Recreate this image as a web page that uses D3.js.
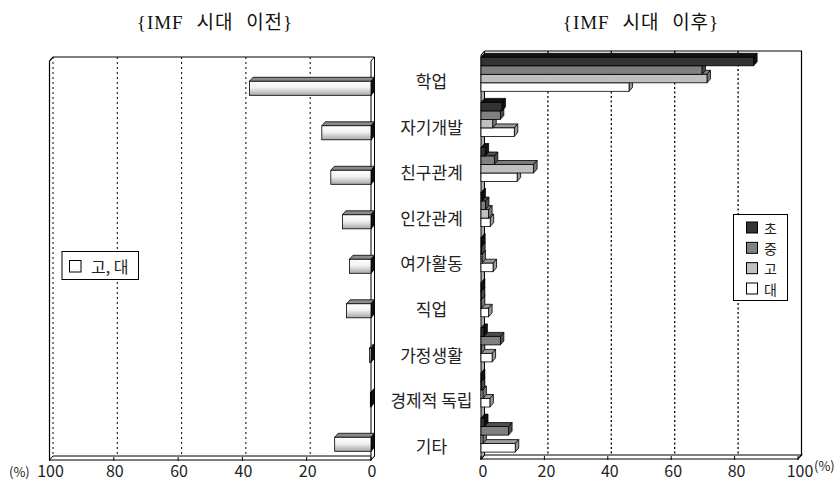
<!DOCTYPE html>
<html>
<head>
<meta charset="utf-8">
<script src="https://cdn.jsdelivr.net/npm/d3@7"></script>
<style>
  body { margin: 0; background: #fff; }
  svg { display: block; }
</style>
</head>
<body>
<div id="chart"></div>
<script>

var categories = ['학업', '자기개발', '친구관계', '인간관계', '여가활동', '직업', '가정생활', '경제적 독립', '기타'];

// before IMF (고, 대)
var beforeValues = [37.8, 15.3, 12.5, 8.9, 6.7, 7.6, 0.5, 0.2, 11.3];

// after IMF
var seriesNames = ['초', '중', '고', '대'];
var afterElem   = [86.0, 6.6, 1.3, 0.3, 0.2, 0.1, 0.9, 0.1, 1.1];
var afterMiddle = [69.7, 6.1, 4.2, 1.4, 0.2, 0.1, 6.1, 0.1, 8.7];
var afterHigh   = [71.3, 3.7, 16.6, 2.4, 0.3, 0.1, 0.1, 0.6, 0.6];
var afterUniv   = [46.7, 10.5, 11.4, 2.9, 3.8, 2.4, 3.5, 2.8, 10.8];

var tickValues = [0, 20, 40, 60, 80, 100];

var width = 837, height = 488;
var dx = 3.5, dy = -4;   // 3d depth offset
var font = '"Noto Sans CJK KR", "Noto Sans", sans-serif';

var svg = d3.select('#chart').append('svg')
  .attr('width', width)
  .attr('height', height);

var defs = svg.append('defs');
var grad = defs.append('linearGradient')
  .attr('id', 'barGrad')
  .attr('x1', 0).attr('y1', 0).attr('x2', 0).attr('y2', 1);
grad.append('stop').attr('offset', '0%').attr('stop-color', '#ffffff');
grad.append('stop').attr('offset', '45%').attr('stop-color', '#f2f2f2');
grad.append('stop').attr('offset', '100%').attr('stop-color', '#a6a6a6');

function bar3d(g, x0, x1, y, h, fill, side, top) {
  g.append('polygon')
    .attr('points', [[x0, y], [x0 + dx, y + dy], [x1 + dx, y + dy], [x1, y]].join(' '))
    .attr('fill', top).attr('stroke', '#000').attr('stroke-width', 0.8);
  g.append('polygon')
    .attr('points', [[x1, y], [x1 + dx, y + dy], [x1 + dx, y + h + dy], [x1, y + h]].join(' '))
    .attr('fill', side).attr('stroke', '#000').attr('stroke-width', 0.8);
  g.append('rect')
    .attr('x', x0).attr('y', y)
    .attr('width', Math.max(0, x1 - x0)).attr('height', h)
    .attr('fill', fill).attr('stroke', '#000').attr('stroke-width', 0.8);
}

// ---------- titles ----------
function title(x, txt) {
  svg.append('text')
    .attr('x', x).attr('y', 29)
    .attr('text-anchor', 'middle')
    .attr('font-family', '"Liberation Serif", "Noto Sans CJK KR", serif')
    .attr('font-size', 19)
    .attr('letter-spacing', '1px')
    .attr('word-spacing', '7px')
    .attr('fill', '#111')
    .text(txt);
}
title(215, '{IMF 시대 이전}');
title(641, '{IMF 시대 이후}');

// ---------- left panel ----------
var xL = d3.scaleLinear().domain([0, 100]).range([371, 49.5]);
var yL = d3.scaleBand().domain(categories).range([66.05, 466.55])
  .paddingInner(0.685).paddingOuter(0.3425);
var topL = 57, floorL = 460;

var left = svg.append('g');

// floor
left.append('polygon')
  .attr('points', [[xL(100), floorL], [xL(100) + dx, floorL + dy], [xL(0) + dx, floorL + dy], [xL(0), floorL]].join(' '))
  .attr('fill', '#fff').attr('stroke', '#000').attr('stroke-width', 1);

// gridlines
left.selectAll('.gridL').data(tickValues.filter(function (d) { return d > 0; }))
  .enter().append('line')
  .attr('x1', function (d) { return xL(d) + dx; })
  .attr('x2', function (d) { return xL(d) + dx; })
  .attr('y1', topL).attr('y2', floorL + dy)
  .attr('stroke', '#000').attr('stroke-width', 1)
  .attr('stroke-dasharray', '2,3');

// frame
left.append('path')
  .attr('d', 'M' + xL(100) + ',' + floorL + 'V' + (topL - dy) + 'L' + (xL(100) + dx) + ',' + topL + 'H' + (xL(0) + dx))
  .attr('fill', 'none').attr('stroke', '#000').attr('stroke-width', 1.2);

// wall at 0
left.append('polygon')
  .attr('points', [[xL(0), topL - dy], [xL(0) + dx, topL], [xL(0) + dx, floorL + dy], [xL(0), floorL]].join(' '))
  .attr('fill', '#fff').attr('stroke', '#000').attr('stroke-width', 1);

// ticks on floor
left.selectAll('.tickL').data(tickValues)
  .enter().append('line')
  .attr('x1', function (d) { return xL(d); })
  .attr('x2', function (d) { return xL(d); })
  .attr('y1', floorL - 3).attr('y2', floorL + 1)
  .attr('stroke', '#000');

categories.forEach(function (c, i) {
  bar3d(left, xL(beforeValues[i]), xL(0), yL(c), yL.bandwidth(), 'url(#barGrad)', '#111', '#8a8a8a');
});

left.selectAll('.tickLabelL').data(tickValues)
  .enter().append('text')
  .attr('x', function (d) { return xL(d) + 1; })
  .attr('y', 477)
  .attr('text-anchor', 'middle')
  .attr('font-family', font).attr('font-size', 16).attr('fill', '#222')
  .text(function (d) { return d; });

svg.append('text')
  .attr('x', 9).attr('y', 477)
  .attr('font-family', font).attr('font-size', 13).attr('fill', '#222')
  .text('(%)');

// left legend
var legL = svg.append('g');
legL.append('rect').attr('x', 62).attr('y', 251.5).attr('width', 76.5).attr('height', 28)
  .attr('fill', '#fff').attr('stroke', '#000');
legL.append('rect').attr('x', 69.5).attr('y', 260.5).attr('width', 11.5).attr('height', 11.5)
  .attr('fill', '#fff').attr('stroke', '#000');
legL.append('text').attr('x', 91).attr('y', 266).attr('dominant-baseline', 'central')
  .attr('font-family', font).attr('font-size', 16).attr('fill', '#222')
  .text('고, 대');

// ---------- right panel ----------
var xR = d3.scaleLinear().domain([0, 100]).range([481, 798]);
var yR = d3.scaleBand().domain(categories).range([51.75, 457.65])
  .paddingInner(0.246).paddingOuter(0.123);
var ySub = d3.scaleBand().domain(seriesNames).range([0, yR.bandwidth()]);
var topR = 51, floorR = 459;

var fills = d3.scaleOrdinal().domain(seriesNames).range(['#333333', '#808080', '#c0c0c0', '#ffffff']);
var sides = d3.scaleOrdinal().domain(seriesNames).range(['#111111', '#4d4d4d', '#7a7a7a', '#9a9a9a']);
var afterData = { '초': afterElem, '중': afterMiddle, '고': afterHigh, '대': afterUniv };

var right = svg.append('g');

right.append('polygon')
  .attr('points', [[xR(0), floorR], [xR(0) + dx, floorR + dy], [xR(100) + dx, floorR + dy], [xR(100), floorR]].join(' '))
  .attr('fill', '#fff').attr('stroke', '#000').attr('stroke-width', 1.2);

right.selectAll('.gridR').data([20, 40, 60, 80])
  .enter().append('line')
  .attr('x1', function (d) { return xR(d) + dx; })
  .attr('x2', function (d) { return xR(d) + dx; })
  .attr('y1', topR).attr('y2', floorR + dy)
  .attr('stroke', '#000').attr('stroke-width', 1.3)
  .attr('stroke-dasharray', '2,2.5');

right.append('path')
  .attr('d', 'M' + (xR(0) + dx) + ',' + topR + 'H' + (xR(100) + dx) + 'V' + (floorR + dy))
  .attr('fill', 'none').attr('stroke', '#000').attr('stroke-width', 1.2);

right.append('polygon')
  .attr('points', [[xR(0), topR - dy], [xR(0) + dx, topR], [xR(0) + dx, floorR + dy], [xR(0), floorR]].join(' '))
  .attr('fill', '#b0b0b0').attr('stroke', '#000').attr('stroke-width', 1);

right.selectAll('.tickR').data(tickValues)
  .enter().append('line')
  .attr('x1', function (d) { return xR(d); })
  .attr('x2', function (d) { return xR(d); })
  .attr('y1', floorR - 3).attr('y2', floorR + 1)
  .attr('stroke', '#000');

categories.forEach(function (c, i) {
  seriesNames.slice().reverse().forEach(function (s) {
    bar3d(right, xR(0), xR(afterData[s][i]), yR(c) + ySub(s), ySub.bandwidth(), fills(s), sides(s), sides(s));
  });
});

right.selectAll('.tickLabelR').data(tickValues)
  .enter().append('text')
  .attr('x', function (d) { return xR(d) + 2; })
  .attr('y', 477)
  .attr('text-anchor', 'middle')
  .attr('font-family', font).attr('font-size', 16).attr('fill', '#222')
  .text(function (d) { return d; });

svg.append('text')
  .attr('x', 814).attr('y', 471)
  .attr('font-family', font).attr('font-size', 13).attr('fill', '#222')
  .text('(%)');

// category labels
var yLabel = d3.scalePoint().domain(categories).range([80.7, 445.1]);
svg.selectAll('.catLabel').data(categories)
  .enter().append('text')
  .attr('x', 431.5)
  .attr('y', function (d) { return yLabel(d); })
  .attr('text-anchor', 'middle')
  .attr('dominant-baseline', 'central')
  .attr('font-family', font).attr('font-size', 17).attr('fill', '#222')
  .text(function (d) { return d; });

// right legend
var legR = svg.append('g');
legR.append('rect').attr('x', 733.5).attr('y', 214.5).attr('width', 54).attr('height', 86)
  .attr('fill', '#fff').attr('stroke', '#000');
var legY = d3.scalePoint().domain(seriesNames).range([227.5, 288.5]);
seriesNames.forEach(function (s) {
  legR.append('rect').attr('x', 746.5).attr('y', legY(s) - 5.5).attr('width', 11).attr('height', 11)
    .attr('fill', fills(s)).attr('stroke', '#000');
  legR.append('text').attr('x', 764).attr('y', legY(s)).attr('dominant-baseline', 'central')
    .attr('font-family', font).attr('font-size', 14).attr('fill', '#222')
    .text(s);
});

</script>
</body>
</html>
